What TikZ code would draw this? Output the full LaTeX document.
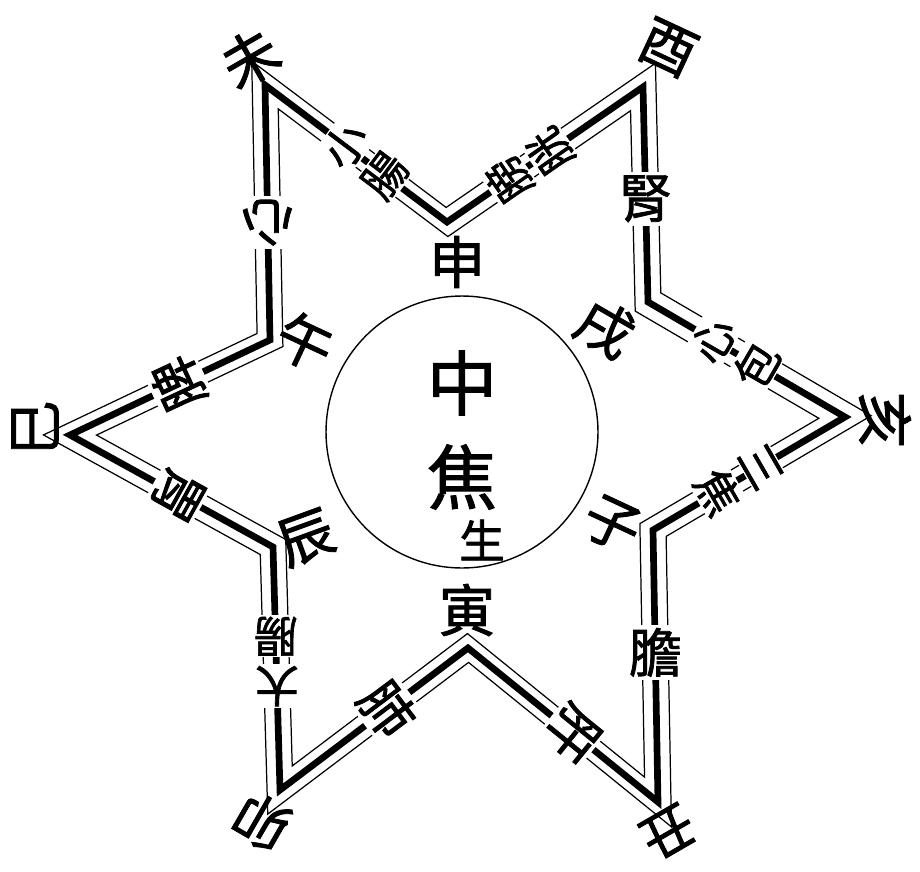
\documentclass[tikz,border=0pt]{standalone}
\usepackage{fontspec}
\newfontfamily\cjk{Noto Sans CJK TC}[FakeBold=1.5]
\usetikzlibrary{calc}

\begin{document}
\begin{tikzpicture}[x=0.02cm, y=-0.02cm,
  star/.style={line width=3.8pt, line join=miter},
  rim/.style={line width=0.7pt},
  branch/.style={font=\cjk\fontsize{32}{32}\selectfont, inner sep=0pt},
  organ/.style={font=\cjk\fontsize{30}{30}\selectfont, fill=white, inner sep=2pt},
  half/.style={organ, font=\cjk\fontsize{25}{25}\selectfont, inner sep=1pt},
  core/.style={font=\cjk\fontsize{40}{40}\selectfont, inner sep=0pt}]
\useasboundingbox (0,0) rectangle (920,872);
\coordinate (o) at (460,436);
\coordinate (wei) at (265,85);
\coordinate (shen) at (447,222);
\coordinate (you) at (643,87);
\coordinate (xu) at (648,302);
\coordinate (hai) at (845,417);
\coordinate (zi) at (653,530);
\coordinate (chou) at (658,802);
\coordinate (yin) at (468,648);
\coordinate (mao) at (280,790);
\coordinate (chen) at (273,547);
\coordinate (si) at (70,435);
\coordinate (wu) at (270,340);
\draw[star] (wei) -- (shen) -- (you) -- (xu) -- (hai) -- (zi) -- (chou) -- (yin) -- (mao) -- (chen) -- (si) -- (wu) -- cycle;
\foreach \s in {1.068,0.932}
  \draw[rim] ($(o)!\s!(wei)$) -- ($(o)!\s!(shen)$) -- ($(o)!\s!(you)$) -- ($(o)!\s!(xu)$) -- ($(o)!\s!(hai)$) -- ($(o)!\s!(zi)$) -- ($(o)!\s!(chou)$) -- ($(o)!\s!(yin)$) -- ($(o)!\s!(mao)$) -- ($(o)!\s!(chen)$) -- ($(o)!\s!(si)$) -- ($(o)!\s!(wu)$) -- cycle;
\node[draw, circle, line width=0.8pt, minimum size=5.44cm] (jiao) at (462,432) {};
\node[core] (zhong) at (462,383) {中};
\node[core] (jiaoz) at (462,477) {焦};
\node[core, font=\cjk\fontsize{26}{26}\selectfont] (sheng) at (482,540) {生};
\node[branch, rotate=30] (wei-t) at (250,58) {未};
\node[branch, rotate=-25] (you-t) at (668,48) {酉};
\node[branch, rotate=-90] (hai-t) at (885,420) {亥};
\node[branch, rotate=-150, font=\cjk\fontsize{30}{30}\selectfont] (chou-t) at (668,832) {丑};
\node[branch, rotate=150] (mao-t) at (262,822) {卯};
\node[branch, rotate=90] (si-t) at (35,428) {巳};
\node[branch] (shen-t) at (457,262) {申};
\node[branch, rotate=-30] (xu-t) at (605,328) {戌};
\node[branch, rotate=-25] (zi-t) at (612,524) {子};
\node[branch] (yin-t) at (467,610) {寅};
\node[branch, rotate=20] (chen-t) at (306,538) {辰};
\node[branch, rotate=-25] (wu-t) at (305,342) {午};
\path (wu) -- node[organ, pos=0.46, rotate=180] (xin) {心} (wei);
\path (wei) -- node[half, pos=0.44, rotate=53] (xiao) {小} node[half, pos=0.66, rotate=53] (chang1) {腸} (shen);
\path (shen) -- node[half, pos=0.315, rotate=125] (pang) {膀} node[half, pos=0.525, rotate=125] (guang) {胱} (you);
\path (you) -- node[organ, pos=0.52] (shenz) {腎} (xu);
\path (xu) -- node[half, pos=0.33, rotate=60] (xin2) {心} node[half, pos=0.55, rotate=60] (bao) {包} (hai);
\path (hai) -- node[half, pos=0.438, rotate=-60] (san) {三} node[half, pos=0.662, rotate=-60] (jiao2) {焦} (zi);
\path (zi) -- node[organ, pos=0.45] (dan) {膽} (chou);
\path (chou) -- node[organ, pos=0.45, rotate=231] (gan) {肝} (yin);
\path (yin) -- node[organ, pos=0.43, rotate=-53] (fei) {肺} (mao);
\path (mao) -- node[half, pos=0.427, rotate=180] (da) {大} node[half, pos=0.633, rotate=180] (chang2) {腸} (chen);
\path (chen) -- node[organ, pos=0.47, rotate=241] (wei-o) {胃} (si);
\path (si) -- node[organ, pos=0.54, rotate=115] (pi) {脾} (wu);
\end{tikzpicture}
\end{document}
